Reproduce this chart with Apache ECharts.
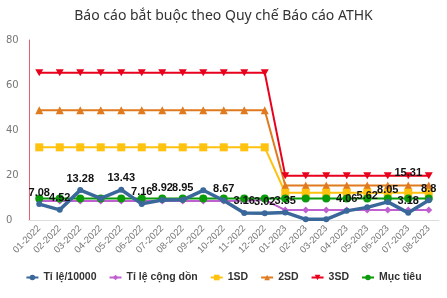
<!DOCTYPE html>
<html><head><meta charset="utf-8">
<script src="https://cdn.jsdelivr.net/npm/echarts@6/dist/echarts.min.js"></script>
<style>html,body{margin:0;padding:0;background:#fff}#c{width:447px;height:298px}</style>
</head><body><div id="c"></div>
<script>
const categories = ["01-2022","02-2022","03-2022","04-2022","05-2022","06-2022","07-2022","08-2022","09-2022","10-2022","11-2022","12-2022","01-2023","02-2023","03-2023","04-2023","05-2023","06-2023","07-2023","08-2023"];
const rate = [7.08,4.52,13.28,9.6,13.43,7.16,8.92,8.95,13.2,8.67,3.16,3.02,3.35,0.3,0.3,4.06,5.62,8.05,3.18,8.8];
const rateLabelHidden = [3,8,13,14];
const cumulative = [8.4,8.4,8.4,8.4,8.4,8.4,8.4,8.4,8.4,8.4,8.6,8.9,4.4,4.4,4.4,4.4,4.4,4.4,4.4,4.4];
const sd1 = [32.3,32.3,32.3,32.3,32.3,32.3,32.3,32.3,32.3,32.3,32.3,32.3,12.1,12.1,12.1,12.1,12.1,12.1,12.1,12.1];
const sd2 = [48.8,48.8,48.8,48.8,48.8,48.8,48.8,48.8,48.8,48.8,48.8,48.8,15.31,15.31,15.31,15.31,15.31,15.31,15.31,15.31];
const sd2LabelIndex = 18;
const sd3 = [65.5,65.5,65.5,65.5,65.5,65.5,65.5,65.5,65.5,65.5,65.5,65.5,19.7,19.7,19.7,19.7,19.7,19.7,19.7,19.7];
const target = [9.6,9.6,9.6,9.6,9.6,9.6,9.6,9.6,9.6,9.6,9.6,9.6,9.6,9.6,9.6,9.6,9.6,9.6,9.6,9.6];
const yTicks = [0,20,40,60,80];
const seriesNames = ["Tỉ lệ/10000","Tỉ lệ cộng dồn","1SD","2SD","3SD","Mục tiêu"];

const chart = echarts.init(document.getElementById('c'), null, {renderer:'canvas'});
const lbl = {show:true, position:'top', color:'#111', fontWeight:'bold', fontSize:11, fontFamily:'Liberation Sans', distance:3};
const rateData = rate.map((v,i)=> rateLabelHidden.includes(i) ? {value:v,label:{show:false}} : v);
const sd2Data = sd2.map((v,i)=> i===sd2LabelIndex ? {value:v,label:lbl} : v);
const invTri = 'path://M0,0 L10,0 L5,9 Z';
chart.setOption({
  animation:false,
  backgroundColor:'#fff',
  title:{text:'Báo cáo bắt buộc theo Quy chế Báo cáo ATHK', left:'center', top:4,
    textStyle:{fontSize:14, fontWeight:'normal', color:'#333', fontFamily:'Noto Sans'}},
  legend:{bottom:10, left:'center', itemGap:12, itemWidth:12, itemHeight:7,
    textStyle:{fontSize:10.5, fontWeight:'bold', color:'#333', fontFamily:'Liberation Sans'},
    data:seriesNames},
  grid:{left:29, right:8, top:40, bottom:78, containLabel:false},
  xAxis:{type:'category', data:categories, boundaryGap:true,
    axisLine:{lineStyle:{color:'#ddd'}}, axisTick:{show:false},
    axisLabel:{rotate:45, fontSize:9.5, color:'#777', interval:0, margin:7, fontFamily:'Liberation Sans'}},
  yAxis:{type:'value', min:yTicks[0], max:yTicks[yTicks.length-1], interval:20,
    splitLine:{show:false}, axisLine:{show:true, lineStyle:{color:'#e8606e'}},
    axisLabel:{fontSize:10, color:'#777', margin:13, align:'left', fontFamily:'DejaVu Sans', padding:[0,0,0,-10]}},
  series:[
    {name:seriesNames[4], type:'line', data:sd3, symbol:invTri, symbolSize:[8,7], lineStyle:{width:2,color:'#e8001c'}, itemStyle:{color:'#e8001c'}, z:3},
    {name:seriesNames[3], type:'line', data:sd2Data, symbol:'triangle', symbolSize:8, lineStyle:{width:2,color:'#e07a1f'}, itemStyle:{color:'#e07a1f'}, z:3},
    {name:seriesNames[2], type:'line', data:sd1, symbol:'rect', symbolSize:8, lineStyle:{width:2,color:'#ffc20e'}, itemStyle:{color:'#ffc20e'}, z:3},
    {name:seriesNames[1], type:'line', data:cumulative, symbol:'diamond', symbolSize:7, lineStyle:{width:2,color:'#c060d0'}, itemStyle:{color:'#c060d0'}, z:4},
    {name:seriesNames[5], type:'line', data:target, symbol:'circle', symbolSize:8, lineStyle:{width:2,color:'#0a9a0a'}, itemStyle:{color:'#0a9a0a'}, z:5},
    {name:seriesNames[0], type:'line', data:rateData, symbol:'circle', symbolSize:6, lineStyle:{width:3.5,color:'#3a689a'}, itemStyle:{color:'#3a689a'}, label:lbl, z:6}
  ]
});
</script></body></html>
